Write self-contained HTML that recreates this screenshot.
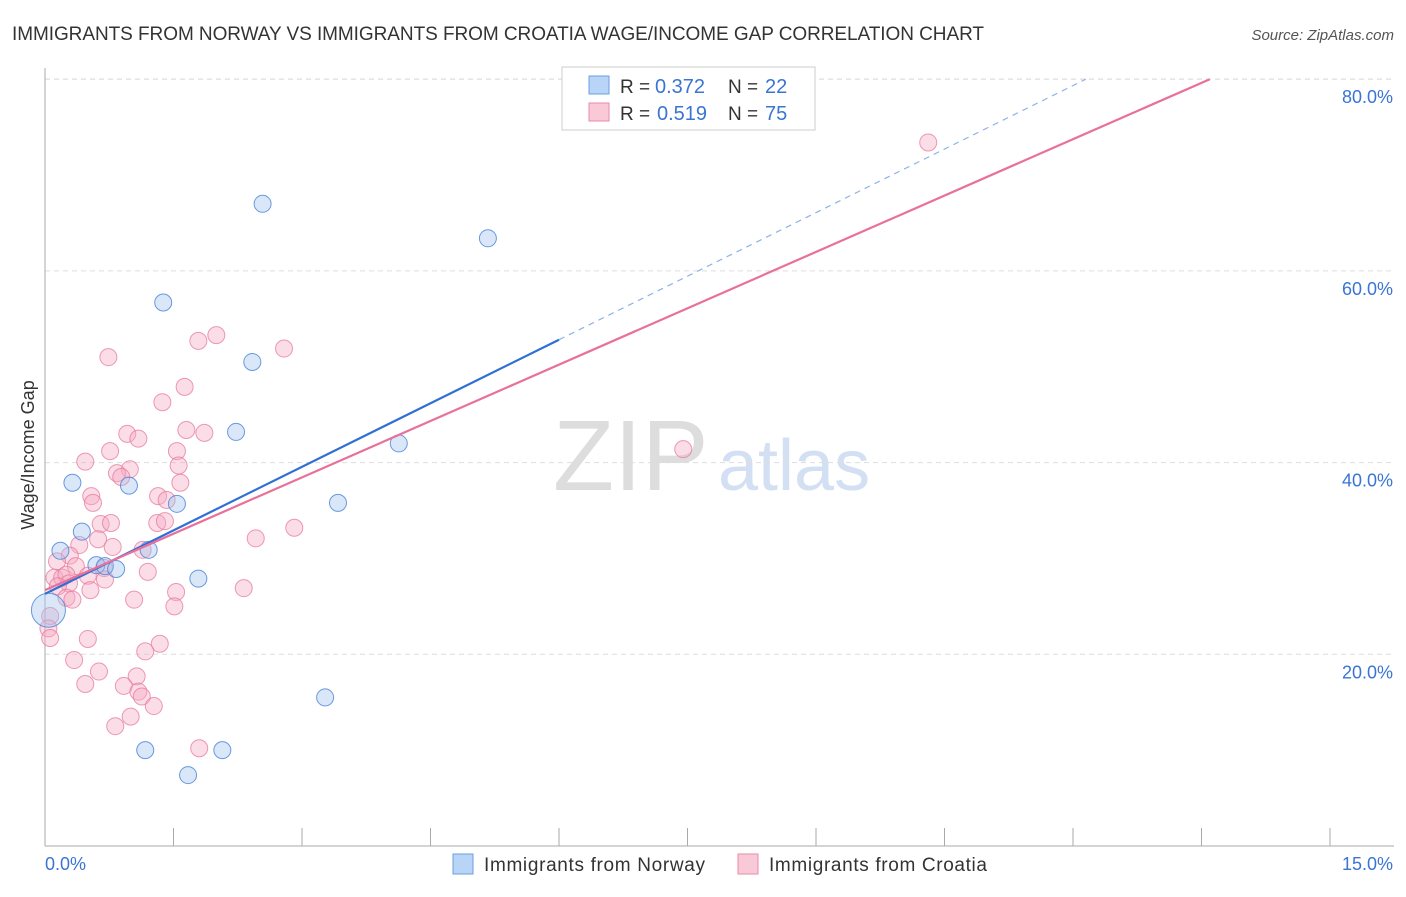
<!DOCTYPE html>
<html><head><meta charset="utf-8"><style>
body{margin:0;background:#fff;font-family:"Liberation Sans",sans-serif;}
svg text{font-family:"Liberation Sans",sans-serif;}
</style></head><body>
<svg id="chart" width="1406" height="892" xmlns="http://www.w3.org/2000/svg">
<text x="12" y="40" font-size="19" fill="#333" textLength="972">IMMIGRANTS FROM NORWAY VS IMMIGRANTS FROM CROATIA WAGE/INCOME GAP CORRELATION CHART</text>
<text x="1394" y="40" font-size="15" fill="#555" font-style="italic" text-anchor="end">Source: ZipAtlas.com</text>
<text x="553" y="490" font-size="100" fill="#ddd" font-family="Liberation Serif">ZIP</text>
<text x="718" y="490" font-size="72" fill="#d3e0f3">atlas</text>
<g id="grid"></g>
<g id="axes"></g>
<g id="points"></g>
<g id="trends"></g>
<text x="34" y="455" font-size="18" fill="#333" transform="rotate(-90 34 455)" text-anchor="middle">Wage/Income Gap</text>
<g>
<rect x="562" y="67" width="253" height="63" fill="#fff" stroke="#ccc"/>
<rect x="589" y="76" width="20" height="18" fill="#b8d4f6" stroke="#6a9fe0"/>
<rect x="589" y="103" width="20" height="18" fill="#f9c9d8" stroke="#ea8aa8"/>
<text x="620" y="93" font-size="19" fill="#333">R =</text>
<text x="655" y="93" font-size="20" fill="#3a74d4">0.372</text>
<text x="728" y="93" font-size="19" fill="#333">N =</text>
<text x="765" y="93" font-size="20" fill="#3a74d4">22</text>
<text x="620" y="120" font-size="19" fill="#333">R =</text>
<text x="657" y="120" font-size="20" fill="#3a74d4">0.519</text>
<text x="728" y="120" font-size="19" fill="#333">N =</text>
<text x="765" y="120" font-size="20" fill="#3a74d4">75</text>
</g>
<g>
<rect x="453" y="854" width="20" height="20" fill="#b8d4f6" stroke="#6a9fe0"/>
<text x="484" y="871" font-size="19" fill="#333" textLength="221">Immigrants from Norway</text>
<rect x="738" y="854" width="20" height="20" fill="#f9c9d8" stroke="#ea8aa8"/>
<text x="769" y="871" font-size="19" fill="#333" textLength="218">Immigrants from Croatia</text>
</g>
</svg>
<script>
const xTicks=[0,1.5,3,4.5,6,7.5,9,10.5,12,13.5,15];
const yTicks=[20,40,60,80];
const yTickLabels=["20.0%","40.0%","60.0%","80.0%"];
const norwayX=[2.54,5.17,1.38,2.42,2.23,4.13,0.32,0.98,1.54,3.42,0.43,0.18,1.21,0.60,0.70,0.83,1.79,0.04,3.27,1.17,2.07,1.67];
const norwayY=[67.0,63.4,56.7,50.5,43.2,42.0,37.9,37.6,35.7,35.8,32.8,30.8,30.9,29.3,29.2,28.9,27.9,24.6,15.5,10.0,10.0,7.4];
const croatiaX=[10.31,2.00,1.79,2.79,0.74,1.63,1.37,0.96,1.09,1.65,1.86,7.45,0.76,1.54,0.47,1.56,0.99,0.84,0.89,1.58,0.54,1.32,0.56,1.42,0.65,0.77,1.31,1.40,2.91,0.62,2.46,0.40,0.79,1.14,0.29,0.14,0.36,0.69,0.11,0.20,0.25,1.20,0.50,0.70,0.28,0.15,0.53,1.53,2.32,0.25,0.32,1.04,1.51,0.06,0.04,0.06,0.50,1.34,1.17,0.34,0.63,1.07,0.47,0.92,1.09,1.13,1.27,1.00,0.82,1.80];
const croatiaY=[73.4,53.3,52.7,51.9,51.0,47.9,46.3,43.0,42.5,43.4,43.1,41.4,41.2,41.2,40.1,39.7,39.3,38.9,38.5,37.9,36.5,36.5,35.8,36.1,33.6,33.7,33.7,33.9,33.2,32.0,32.1,31.4,31.2,30.9,30.3,29.7,29.2,29.0,28.0,28.0,28.3,28.6,28.2,27.8,27.4,27.1,26.7,26.5,26.9,25.9,25.7,25.7,25.0,24.0,22.7,21.7,21.6,21.1,20.3,19.4,18.2,17.7,16.9,16.7,16.1,15.6,14.6,13.5,12.5,10.2];
const norwayTrend=[26.3,4.42], croatiaTrend=[26.7,3.92];
const NS="http://www.w3.org/2000/svg";
const X=v=>45+v/15*1285, Y=v=>846-v*9.585;
function mk(t,a,p){const e=document.createElementNS(NS,t);for(const k in a)e.setAttribute(k,a[k]);document.getElementById(p).appendChild(e);return e;}
yTicks.forEach((t,i)=>{
 const l=mk('line',{x1:45,x2:1394,y1:Y(t),y2:Y(t),stroke:'#ddd','stroke-dasharray':'5,4'},'grid');
 
 
 const tx=mk('text',{x:1393,y:Y(t)+24,'font-size':18,fill:'#3a74d4','text-anchor':'end'},'axes');
 tx.textContent=yTickLabels[i];
 
 
});
const topGrid=mk('line',{x1:45,x2:1394,y1:79,y2:79,stroke:'#ddd','stroke-dasharray':'5,4'},'grid');


const ya=mk('line',{x1:45,x2:45,y1:68,y2:846,stroke:'#aaa'},'axes');


const xa=mk('line',{x1:45,x2:1394,y1:846,y2:846,stroke:'#aaa'},'axes');


xTicks.forEach(t=>{
 const l=mk('line',{x1:X(t),x2:X(t),y1:828,y2:846,stroke:'#aaa'},'axes');
 
 
});
const xl0=mk('text',{x:45,y:870,'font-size':18,fill:'#3a74d4'},'axes');xl0.textContent="0.0%";


const xl1=mk('text',{x:1393,y:870,'font-size':18,fill:'#3a74d4','text-anchor':'end'},'axes');xl1.textContent="15.0%";


croatiaX.forEach((x,i)=>{
 const c=mk('circle',{cx:X(x),cy:Y(croatiaY[i]),r:8.5,fill:'rgba(246,170,194,0.4)',stroke:'rgba(232,120,155,0.75)','stroke-width':1},'points');
 
 
});
norwayX.forEach((x,i)=>{
 const c=mk('circle',{cx:X(x),cy:Y(norwayY[i]),r:i===17?17:8.5,fill:'rgba(160,195,240,0.4)',stroke:'rgba(70,130,215,0.8)','stroke-width':1},'points');
 
 
});
const nx1=6.0, nx2=(80-norwayTrend[0])/norwayTrend[1];
const n1=mk('line',{x1:X(0),y1:Y(norwayTrend[0]),x2:X(nx1),y2:Y(norwayTrend[0]+norwayTrend[1]*nx1),stroke:'#2f6fd6','stroke-width':2.2},'trends');


const n2=mk('line',{x1:X(nx1),y1:Y(norwayTrend[0]+norwayTrend[1]*nx1),x2:X(nx2),y2:Y(80),stroke:'#8fb3e8','stroke-width':1.2,'stroke-dasharray':'6,5'},'trends');


const cx2=(80-croatiaTrend[0])/croatiaTrend[1];
const c1=mk('line',{x1:X(0),y1:Y(croatiaTrend[0]),x2:X(cx2),y2:Y(80),stroke:'#e8709a','stroke-width':2.2},'trends');


</script>
</body></html>
